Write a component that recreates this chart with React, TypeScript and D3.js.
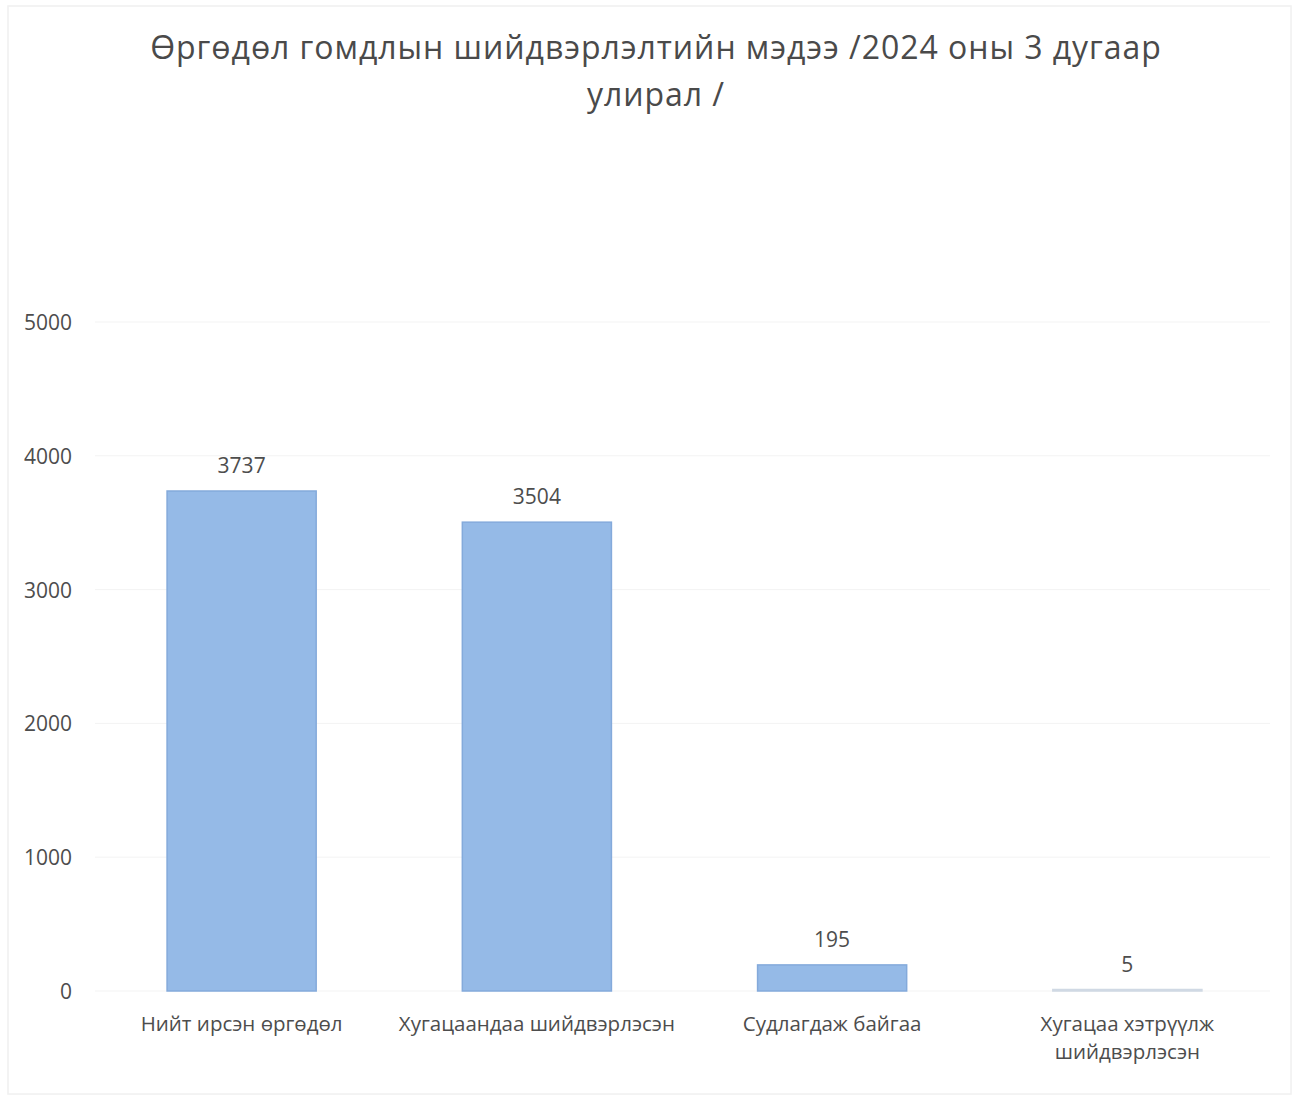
import React from "react";
import * as d3 from "d3";

const categories = [
  ["Нийт ирсэн өргөдөл"],
  ["Хугацаандаа шийдвэрлэсэн"],
  ["Судлагдаж байгаа"],
  ["Хугацаа хэтрүүлж", "шийдвэрлэсэн"],
];
const values = [3737, 3504, 195, 5];
const yTicks = [0, 1000, 2000, 3000, 4000, 5000];
const titleLines = ["Өргөдөл гомдлын шийдвэрлэлтийн мэдээ /2024 оны 3 дугаар", "улирал /"];

const W = 1299;
const H = 1098;
const FONT = "'Open Sans', 'Noto Sans', sans-serif";

export default function App() {
  const x = d3
    .scaleBand<number>()
    .domain(values.map((_, i) => i))
    .range([94, 1275])
    .paddingInner(0.495)
    .paddingOuter(0.2475);
  const y = d3.scaleLinear().domain([0, 5000]).range([991, 322]);

  return (
    <svg
      width={W}
      height={H}
      style={{ position: "absolute", left: 0, top: 0, background: "#fff" }}
      fontFamily={FONT}
    >
      <rect x={0} y={0} width={W} height={H} fill="#fff" />
      <rect x={8} y={6} width={1283} height={1088} fill="none" stroke="#f0f0f0" strokeWidth={1.5} />
      {titleLines.map((t, i) => (
        <text
          key={i}
          x={656}
          y={59 + i * 47}
          textAnchor="middle"
          fontSize={32}
          fill="#4a4a4a"
          letterSpacing={0.95}
        >
          {t}
        </text>
      ))}
      {yTicks.map((t) => (
        <g key={t}>
          <line x1={95} x2={1270} y1={y(t)} y2={y(t)} stroke="#f3f3f3" strokeWidth={1} />
          <text x={72} y={y(t) + 8} textAnchor="end" fontSize={21} fill="#4d4d4d">
            {t}
          </text>
        </g>
      ))}
      {values.map((v, i) => {
        const bx = x(i)!;
        const bw = x.bandwidth();
        const top = y(v);
        const h = Math.max(y(0) - top, 1.5);
        return (
          <g key={i}>
            <rect
              x={bx}
              y={y(0) - h}
              width={bw}
              height={h}
              fill={v > 50 ? "#95bae7" : "#dde6f0"}
              stroke={v > 50 ? "#84aadb" : "#d0d9e4"}
              strokeWidth={1.5}
            />
            <text x={bx + bw / 2} y={top - 18} textAnchor="middle" fontSize={21} fill="#4d4d4d">
              {v}
            </text>
            {categories[i].map((line, j) => (
              <text
                key={j}
                x={bx + bw / 2}
                y={1031 + j * 28}
                textAnchor="middle"
                fontSize={20.5}
                fill="#4d4d4d"
              >
                {line}
              </text>
            ))}
          </g>
        );
      })}
    </svg>
  );
}
